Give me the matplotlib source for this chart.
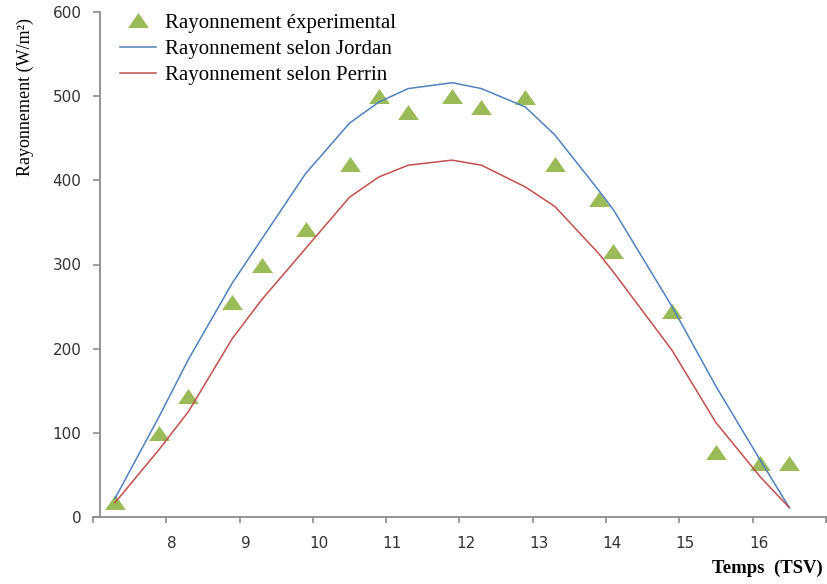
import matplotlib
matplotlib.use('Agg')
import matplotlib.pyplot as plt
from matplotlib.transforms import ScaledTranslation

# heure solaire vraie (TSV)
temps = [7.3, 7.9, 8.3, 8.9, 9.3, 9.9, 10.5, 10.9, 11.3, 11.9,
         12.3, 12.9, 13.3, 13.9, 14.1, 14.9, 15.5, 16.1, 16.5]
ray_exp = [18, 100, 144, 256, 300, 342, 420, 500, 481, 500,
           487, 499, 420, 378, 316, 245, 77, 64, 64]
ray_jordan = [22, 119, 187, 278, 330, 408, 468, 493, 509, 516,
              509, 487, 454, 388, 365, 250, 155, 68, 11]
ray_perrin = [17, 80, 125, 212, 258, 319, 380, 404, 418, 424,
              418, 392, 369, 313, 291, 198, 112, 48, 11]

xticks = [7, 8, 9, 10, 11, 12, 13, 14, 15, 16, 17]
xticklabels = ['', '8', '9', '10', '11', '12', '13', '14', '15', '16', '']
yticks = [0, 100, 200, 300, 400, 500, 600]

serif = 'Liberation Serif'
fig = plt.figure(figsize=(8.28, 5.84), dpi=100)
ax = fig.add_axes([93/828, 1 - 517/584, 733/828, 505/584])

ax.plot(temps, ray_exp, linestyle='none',
        marker=[(-1, -0.72), (1, -0.72), (0, 0.72)], ms=15,
        color='#9BBB59', mec='none', label='Rayonnement éxperimental')
ax.plot(temps, ray_jordan, color='#4F81BD', lw=1.1, label='Rayonnement selon Jordan')
ax.plot(temps, ray_perrin, color='#C0504D', lw=1.1, label='Rayonnement selon Perrin')

ax.set_xlim(7, 17)
ax.set_ylim(0, 600)
ax.set_xticks(xticks)
ax.set_xticklabels(xticklabels)
ax.set_yticks(yticks)

for s in ['top', 'right']:
    ax.spines[s].set_visible(False)
ax.spines['left'].set_position(('data', 7.09))
for s in ['left', 'bottom']:
    ax.spines[s].set_color('#8c8c8c')
    ax.spines[s].set_linewidth(1.3)

ax.tick_params(axis='x', direction='out', length=4, width=1.2, color='#8c8c8c',
               pad=10, labelsize=11, labelcolor='#333333')
ax.tick_params(axis='y', direction='out', length=5, width=1.2, color='#8c8c8c',
               pad=8, labelsize=11, labelcolor='#333333')
for lab in ax.get_xticklabels():
    lab.set_transform(lab.get_transform() + ScaledTranslation(0.06, 0, fig.dpi_scale_trans))

fig.text(25/828, 1 - 18/584, 'Rayonnement (W/m²)', rotation=90, ha='center', va='top',
         family=serif, fontsize=13)
fig.text(823/828, 1 - 568/584, 'Temps  (TSV)', ha='right', va='center',
         family=serif, fontsize=13.5, fontweight='bold')

ax.legend(loc='upper left', bbox_to_anchor=(120/828, 1 - 13/584),
          bbox_transform=fig.transFigure, frameon=False, borderpad=0,
          prop={'family': serif, 'size': 15}, handlelength=1.75,
          handletextpad=0.4, labelspacing=0.32, borderaxespad=0)

fig.savefig('out.png', dpi=100)
